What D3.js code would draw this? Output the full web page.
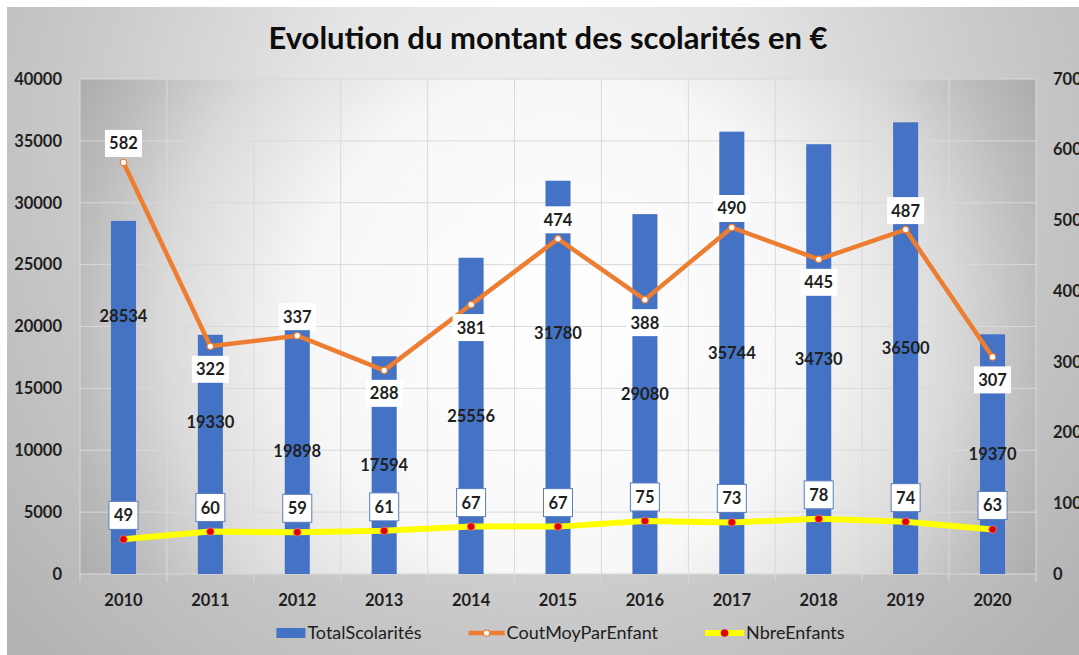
<!DOCTYPE html>
<html><head><meta charset="utf-8">
<script src="https://cdn.jsdelivr.net/npm/d3@7"></script>
<style>html,body{margin:0;padding:0;background:#fff;overflow:hidden}</style>
</head><body>
<svg id="c" width="1079" height="655"></svg>
<script>
// ---- data ----
const years = ["2010","2011","2012","2013","2014","2015","2016","2017","2018","2019","2020"];
const totalScolarites = [28534,19330,19898,17594,25556,31780,29080,35744,34730,36500,19370];
const coutMoyParEnfant = [582,322,337,288,381,474,388,490,445,487,307];
const nbreEnfants = [49,60,59,61,67,67,75,73,78,74,63];
const leftTicks = [0,5000,10000,15000,20000,25000,30000,35000,40000];
const rightTicks = [0,100,200,300,400,500,600,700];
const seriesNames = ["TotalScolarités","CoutMoyParEnfant","NbreEnfants"];
const chartTitle = "Evolution du montant des scolarités en €";

// ---- layout / style ----
const W = 1079, H = 655;
const P = {left:80, right:1036, top:79, bottom:574};
const FONT = "Lato, 'Open Sans', sans-serif";
const C = {bar:"#4472C4", cout:"#ED7D31", nbre:"#FFFF00", dot:"#E00000", text:"#1f1f1f", grid:"#d9d9d9"};
// label placement (Excel data-label positions)
const coutPos = ["above","below","above","below","below","above","below","above","below","above","below"];
const barLabelShift = {"2010":-81,"2011":-32,"2015":-44};

const svg = d3.select("#c");
const defs = svg.append("defs");

const bg = defs.append("radialGradient").attr("id","bgGrad")
  .attr("gradientUnits","userSpaceOnUse").attr("cx",W/2).attr("cy",150).attr("r",720);
[[0,"#f1f1f1"],[0.3,"#e6e6e6"],[0.62,"#cbcbcb"],[1,"#b2b2b2"]].forEach(s=>bg.append("stop").attr("offset",s[0]).attr("stop-color",s[1]));

const pg = defs.append("radialGradient").attr("id","plotGrad")
  .attr("gradientUnits","userSpaceOnUse").attr("cx",(P.left+P.right)/2).attr("cy",(P.top+P.bottom)/2).attr("r",560);
[[0,"#ffffff"],[0.45,"#f7f7f7"],[0.7,"#dadada"],[0.85,"#bdbdbd"],[1,"#a6a6a6"]].forEach(s=>pg.append("stop").attr("offset",s[0]).attr("stop-color",s[1]));

svg.append("rect").attr("x",0).attr("y",0).attr("width",W).attr("height",H).attr("fill","#ffffff");
svg.append("rect").attr("x",7).attr("y",7).attr("width",W-7).attr("height",H-7).attr("fill","url(#bgGrad)");
svg.append("rect").attr("x",P.left).attr("y",P.top).attr("width",P.right-P.left).attr("height",P.bottom-P.top).attr("fill","url(#plotGrad)");

// scales
const x = d3.scaleBand().domain(years).range([P.left,P.right]).paddingInner(0.712).paddingOuter(0.356);
const cx = d => x(d) + x.bandwidth()/2;
const yL = d3.scaleLinear().domain([0,40000]).range([P.bottom,P.top]);
const yR = d3.scaleLinear().domain([0,700]).range([P.bottom,P.top]);

// gridlines
const grid = svg.append("g");
grid.selectAll("line.h").data(leftTicks).join("line")
  .attr("x1",P.left).attr("x2",P.right).attr("y1",d=>yL(d)).attr("y2",d=>yL(d))
  .attr("stroke",C.grid).attr("stroke-width",1);
const bounds = d3.range(years.length+1).map(i=>P.left + i*x.step());
grid.selectAll("line.v").data(bounds).join("line")
  .attr("x1",d=>d).attr("x2",d=>d).attr("y1",P.top).attr("y2",P.bottom+8)
  .attr("stroke",C.grid).attr("stroke-width",1);

// axes
const axL = svg.append("g").attr("transform",`translate(${P.left},0)`)
  .call(d3.axisLeft(yL).tickValues(leftTicks).tickSize(0).tickPadding(18).tickFormat(d3.format("d")));
const axR = svg.append("g").attr("transform",`translate(${P.right},0)`)
  .call(d3.axisRight(yR).tickValues(rightTicks).tickSize(0).tickPadding(17).tickFormat(d3.format("d")));
const axB = svg.append("g").attr("transform",`translate(0,${P.bottom})`)
  .call(d3.axisBottom(x).tickSize(0));
axB.selectAll("text").attr("y",26).attr("dy","0.35em");
[axL,axR,axB].forEach(a=>{
  a.select(".domain").remove();
  a.selectAll("text").attr("font-family",FONT).attr("font-weight","bold").attr("font-size","16.5px").attr("fill",C.text);
});

// bars
svg.append("g").selectAll("rect").data(years).join("rect")
  .attr("x",d=>x(d)).attr("width",x.bandwidth())
  .attr("y",(d,i)=>yL(totalScolarites[i])).attr("height",(d,i)=>yL(0)-yL(totalScolarites[i]))
  .attr("fill",C.bar);

// bar labels
svg.append("g").selectAll("text").data(years).join("text")
  .attr("x",d=>cx(d))
  .attr("y",(d,i)=>(yL(totalScolarites[i])+yL(0))/2 + (barLabelShift[d]||0))
  .attr("dy","0.35em").attr("text-anchor","middle")
  .attr("font-family",FONT).attr("font-weight","bold").attr("font-size","16.5px").attr("fill",C.text)
  .text((d,i)=>totalScolarites[i]);

// lines
const lineGen = d3.line().x((d,i)=>cx(years[i])).y(d=>yR(d));
svg.append("path").datum(nbreEnfants).attr("d",lineGen).attr("fill","none")
  .attr("stroke",C.nbre).attr("stroke-width",6).attr("stroke-linejoin","round");
svg.append("path").datum(coutMoyParEnfant).attr("d",lineGen).attr("fill","none")
  .attr("stroke",C.cout).attr("stroke-width",4.5).attr("stroke-linejoin","round");

svg.append("g").selectAll("circle").data(coutMoyParEnfant).join("circle")
  .attr("cx",(d,i)=>cx(years[i])).attr("cy",d=>yR(d)).attr("r",3.2)
  .attr("fill","#ffffff").attr("stroke",C.cout).attr("stroke-width",1.2);
svg.append("g").selectAll("circle").data(nbreEnfants).join("circle")
  .attr("cx",(d,i)=>cx(years[i])).attr("cy",d=>yR(d)).attr("r",3.8)
  .attr("fill",C.dot).attr("stroke","#f08080").attr("stroke-width",0.8);

// cout labels (white box)
const coutG = svg.append("g").selectAll("g").data(coutMoyParEnfant).join("g")
  .attr("transform",(d,i)=>`translate(${cx(years[i])},${yR(d) + (coutPos[i]==="above" ? -19 : 23)})`);
coutG.append("rect").attr("x",-18.5).attr("y",-13.5).attr("width",37).attr("height",27).attr("fill","#ffffff");
coutG.append("text").attr("text-anchor","middle").attr("dy","0.36em")
  .attr("font-family",FONT).attr("font-weight","bold").attr("font-size","16.5px").attr("fill",C.text)
  .text(d=>d);

// nbre labels (bordered box)
const nbG = svg.append("g").selectAll("g").data(nbreEnfants).join("g")
  .attr("transform",(d,i)=>`translate(${cx(years[i])},${yR(d) - 24})`);
nbG.append("rect").attr("x",-14.5).attr("y",-14).attr("width",29).attr("height",28)
  .attr("fill","#ffffff").attr("stroke","#5a7dbd").attr("stroke-width",1);
nbG.append("text").attr("text-anchor","middle").attr("dy","0.36em")
  .attr("font-family",FONT).attr("font-weight","bold").attr("font-size","16.5px").attr("fill",C.text)
  .text(d=>d);

// title
svg.append("text").attr("x",548).attr("y",49).attr("text-anchor","middle")
  .attr("font-family",FONT).attr("font-weight","bold").attr("font-size","31px").attr("fill","#0d0d0d")
  .text(chartTitle);

// legend
const lg = svg.append("g");
const legY = 633;
const symWs = [29,36,39];
const gapAfter = 47;
let lx = 0;
seriesNames.forEach((name,i)=>{
  const g = lg.append("g");
  const symW = symWs[i];
  if(i===0){
    g.append("rect").attr("x",0).attr("y",legY-5).attr("width",symW).attr("height",10).attr("fill",C.bar);
  } else if(i===1){
    g.append("line").attr("x1",0).attr("x2",symW).attr("y1",legY).attr("y2",legY).attr("stroke",C.cout).attr("stroke-width",4.5);
    g.append("circle").attr("cx",symW/2).attr("cy",legY).attr("r",3.2).attr("fill","#fff").attr("stroke",C.cout).attr("stroke-width",1.2);
  } else {
    g.append("line").attr("x1",0).attr("x2",symW).attr("y1",legY).attr("y2",legY).attr("stroke",C.nbre).attr("stroke-width",6);
    g.append("circle").attr("cx",symW/2).attr("cy",legY).attr("r",3.8).attr("fill",C.dot);
  }
  const t = g.append("text").attr("x",symW+2).attr("y",legY).attr("dy","0.35em")
    .attr("font-family",FONT).attr("font-size","18px").attr("fill","#202020").text(name);
  const w = symW + 2 + t.node().getComputedTextLength();
  g.attr("transform",`translate(${lx},0)`);
  lx += w + gapAfter;
});
const totalW = lx - gapAfter;
lg.attr("transform",`translate(${560.5 - totalW/2},0)`);
</script>
</body></html>
